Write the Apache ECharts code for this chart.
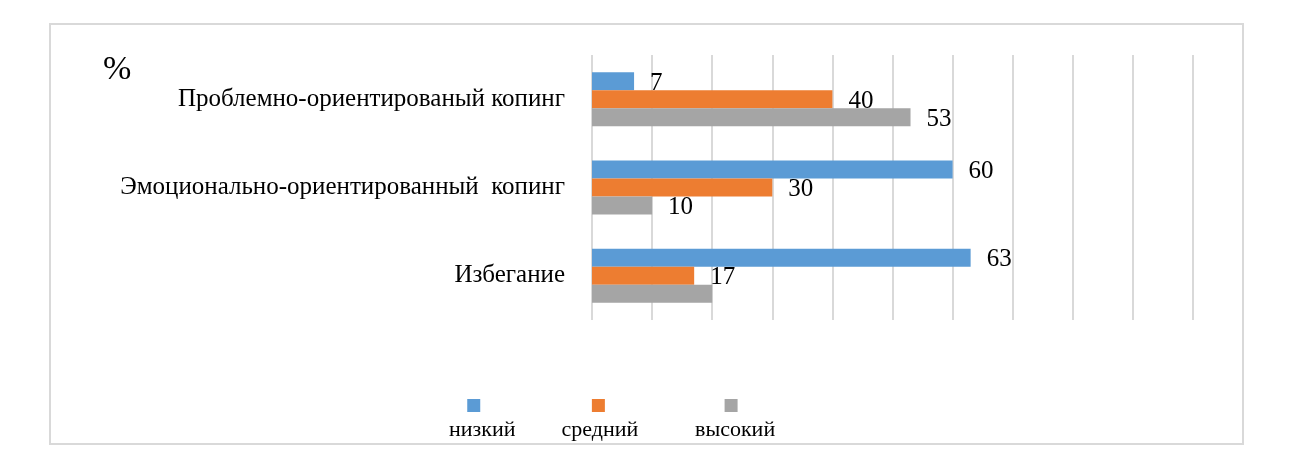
<!DOCTYPE html>
<html>
<head>
<meta charset="utf-8">
<script src="https://cdn.jsdelivr.net/npm/echarts@6/dist/echarts.min.js"></script>
<style>
html,body{margin:0;padding:0;background:#fff;}
#chart{width:1293px;height:469px;}
</style>
</head>
<body>
<div id="chart"></div>
<script>
const categories = ['Проблемно-ориентированый копинг', 'Эмоционально-ориентированный  копинг', 'Избегание'];
const seriesNames = ['низкий', 'средний', 'высокий'];
const lowValues = [7, 60, 63];
const midValues = [40, 30, 17];
const highValues = [53, 10, 20];
const highLabelShown = [true, true, false];
const xTicks = [0, 10, 20, 30, 40, 50, 60, 70, 80, 90, 100];
const unitLabel = '%';

const colors = ['#5B9BD5', '#ED7D31', '#A5A5A5'];
const serif = '"Liberation Serif", "Times New Roman", serif';

const chart = echarts.init(document.getElementById('chart'));

function makeSeries(name, values, color, shown) {
  return {
    name: name,
    type: 'bar',
    barWidth: 18,
    barGap: '0%',
    itemStyle: { color: color },
    label: {
      show: true,
      position: 'right',
      distance: 16,
      offset: [0, 2],
      color: '#000',
      fontFamily: serif,
      fontSize: 25
    },
    data: values.map((v, i) => (shown && !shown[i]) ? { value: v, label: { show: false } } : v)
  };
}

const legendCenters = [482, 600, 735];
const legendHalfWidths = [33, 38.5, 40];
const iconShift = [17, 3, 8];
const legends = seriesNames.map((n, i) => ({
  data: [n],
  icon: 'none',
  itemWidth: 0,
  itemGap: 0,
  padding: 0,
  selectedMode: false,
  left: legendCenters[i] - 5 - legendHalfWidths[i],
  top: 399,
  formatter: function (name) { return '{i| }{s| }\n{t|' + name + '}'; },
  textStyle: {
    rich: {
      i: { width: 13, height: 13, backgroundColor: colors[i], align: 'center', lineHeight: 18 },
      s: { width: iconShift[i], height: 13, align: 'center', lineHeight: 18 },
      t: { fontSize: 22, fontFamily: serif, color: '#000', align: 'center', lineHeight: 32 }
    }
  }
}));

chart.setOption({
  animation: false,
  backgroundColor: '#fff',
  title: {
    text: unitLabel,
    left: 98,
    top: 48,
    textStyle: { fontFamily: serif, fontSize: 34, fontWeight: 'normal', color: '#000' }
  },
  graphic: [{
    type: 'rect',
    shape: { x: 50, y: 24, width: 1193, height: 420 },
    style: { fill: 'none', stroke: '#d9d9d9', lineWidth: 2 },
    silent: true,
    z: -10
  }],
  legend: legends,
  grid: { left: 592, right: 100, top: 55, bottom: 149, containLabel: false },
  xAxis: {
    type: 'value',
    min: xTicks[0],
    max: xTicks[xTicks.length - 1],
    interval: xTicks[1] - xTicks[0],
    axisLabel: { show: false },
    axisLine: { show: false },
    axisTick: { show: false },
    splitLine: { show: true, lineStyle: { color: '#d9d9d9', width: 2 } }
  },
  yAxis: {
    type: 'category',
    inverse: true,
    data: categories,
    axisLine: { show: false },
    axisTick: { show: false },
    axisLabel: { color: '#000', fontFamily: serif, fontSize: 25, margin: 27 }
  },
  series: [
    makeSeries(seriesNames[0], lowValues, colors[0]),
    makeSeries(seriesNames[1], midValues, colors[1]),
    makeSeries(seriesNames[2], highValues, colors[2], highLabelShown)
  ]
});
</script>
</body>
</html>
